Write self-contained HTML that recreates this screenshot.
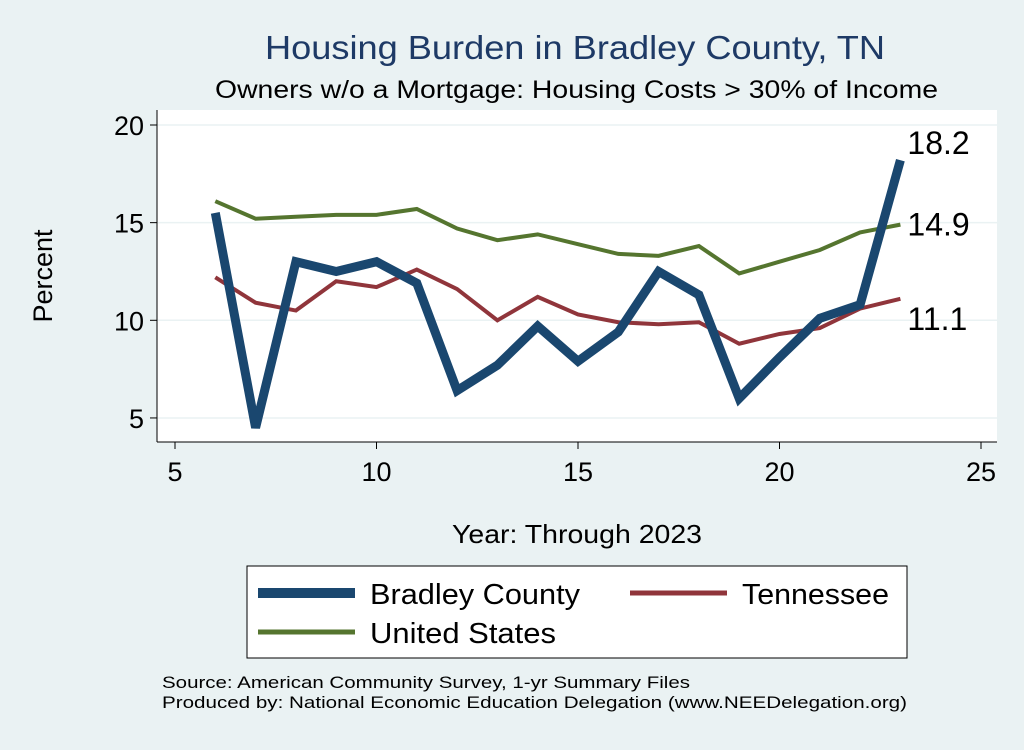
<!DOCTYPE html>
<html><head><meta charset="utf-8"><style>
body{margin:0;background:#eaf2f3;font-family:"Liberation Sans",sans-serif;}
svg text{font-family:"Liberation Sans",sans-serif;}
</style></head><body>
<svg width="1024" height="745" xmlns="http://www.w3.org/2000/svg">
<rect x="0" y="0" width="1024" height="745" fill="#eaf2f3"/>
<text x="265" y="59" font-size="33" fill="#1e3a66" textLength="620" lengthAdjust="spacingAndGlyphs">Housing Burden in Bradley County, TN</text>
<text x="215" y="98" font-size="25" fill="#000" textLength="723" lengthAdjust="spacingAndGlyphs">Owners w/o a Mortgage: Housing Costs &gt; 30% of Income</text>
<rect x="157" y="110" width="840" height="332" fill="#ffffff"/>
<g id="grid"></g><g id="axes"></g><g id="series"></g>
<text x="52" y="276" text-anchor="middle" font-size="27" transform="rotate(-90 52 276)">Percent</text>
<text x="452" y="543" font-size="26" textLength="250" lengthAdjust="spacingAndGlyphs">Year: Through 2023</text>
<g>
<rect x="247" y="566" width="660" height="92" fill="#fff" stroke="#000" stroke-width="1"/>
<line x1="258" y1="593" x2="355" y2="593" stroke="#1a476f" stroke-width="10"/>
<text x="370" y="604" font-size="29" textLength="210" lengthAdjust="spacingAndGlyphs">Bradley County</text>
<line x1="630" y1="593" x2="727" y2="593" stroke="#90353b" stroke-width="5"/>
<text x="742" y="604" font-size="29" textLength="147" lengthAdjust="spacingAndGlyphs">Tennessee</text>
<line x1="258" y1="632" x2="355" y2="632" stroke="#55752f" stroke-width="5"/>
<text x="370" y="643" font-size="29" textLength="186" lengthAdjust="spacingAndGlyphs">United States</text>
</g>
<text x="162" y="688" font-size="17" textLength="528" lengthAdjust="spacingAndGlyphs">Source: American Community Survey, 1-yr Summary Files</text>
<text x="162" y="708" font-size="17" textLength="745" lengthAdjust="spacingAndGlyphs">Produced by: National Economic Education Delegation (www.NEEDelegation.org)</text>
</svg>
<script>
const years=[6,7,8,9,10,11,12,13,14,15,16,17,18,19,20,21,22,23];
const bradley=[15.5,4.5,13.0,12.5,13.0,11.9,6.4,7.7,9.7,7.9,9.4,12.5,11.3,6.0,8.1,10.1,10.8,18.2];
const tennessee=[12.2,10.9,10.5,12.0,11.7,12.6,11.6,10.0,11.2,10.3,9.9,9.8,9.9,8.8,9.3,9.6,10.6,11.1];
const us=[16.1,15.2,15.3,15.4,15.4,15.7,14.7,14.1,14.4,13.9,13.4,13.3,13.8,12.4,13.0,13.6,14.5,14.9];
const xTicks=[5,10,15,20,25];
const yTicks=[5,10,15,20];
const NS="http://www.w3.org/2000/svg";
const X=v=>175+(v-5)*40.3;
const Y=v=>125+(20-v)*19.53;
function mk(t,a,p){const e=document.createElementNS(NS,t);for(const k in a)e.setAttribute(k,a[k]);p.appendChild(e);return e;}
const grid=document.getElementById('grid'),axes=document.getElementById('axes'),ser=document.getElementById('series');
mk('line',{x1:157,y1:110,x2:157,y2:442,stroke:'#000','stroke-width':1},axes);
mk('line',{x1:157,y1:442,x2:997,y2:442,stroke:'#000','stroke-width':1},axes);
yTicks.forEach(t=>{
 const g=mk('line',{x1:157,y1:Y(t),x2:997,y2:Y(t),stroke:'#eaf2f3','stroke-width':1.5},grid);
 
 
 mk('line',{x1:150,y1:Y(t),x2:157,y2:Y(t),stroke:'#000'},axes);
 const tx=mk('text',{x:144,y:Y(t)+10,'text-anchor':'end','font-size':27},axes);
 tx.textContent=t;
 
 
});
xTicks.forEach(t=>{
 mk('line',{x1:X(t),y1:442,x2:X(t),y2:449,stroke:'#000'},axes);
 const tx=mk('text',{x:X(t),y:481,'text-anchor':'middle','font-size':27},axes);
 tx.textContent=t;
 
 
});
function line(vals,color,w,name){
 const p=mk('polyline',{points:years.map((y,i)=>X(y)+','+Y(vals[i])).join(' '),fill:'none',stroke:color,'stroke-width':w,'stroke-linejoin':'miter','stroke-linecap':'butt'},ser);
 
 
}
line(us,'#55752f',4,'line-united-states');
line(tennessee,'#90353b',4,'line-tennessee');
line(bradley,'#1a476f',9,'line-bradley-county');
const last=years.length-1;
[[bradley,'label-bradley-last',-6],[us,'label-us-last',11],[tennessee,'label-tennessee-last',31]].forEach(([v,n,dy])=>{
 const tx=mk('text',{x:X(years[last])+7,y:Y(v[last])+dy,'font-size':32},ser);
 tx.textContent=v[last].toFixed(1);
 
 
});
</script>
</body></html>
